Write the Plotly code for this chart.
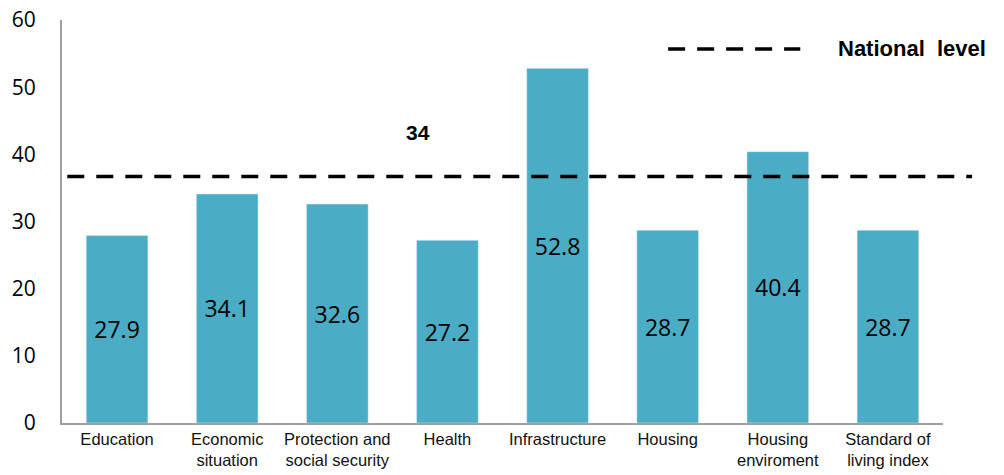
import plotly.graph_objects as go

categories = ["Education", "Economic<br>situation", "Protection and<br>social security", "Health",
              "Infrastructure", "Housing", "Housing<br>enviroment", "Standard of<br>living index"]
values = [27.9, 34.1, 32.6, 27.2, 52.8, 28.7, 40.4, 28.7]
national_level = 36.7
national_label = "34"
national_label_pos = (2.73, 43.3)
legend_label = "National&nbsp;&nbsp;level"
y_ticks = [0, 10, 20, 30, 40, 50, 60]

bar_color = "#4bacc6"
dash_style = "17px,12px"

fig = go.Figure()
fig.add_trace(go.Bar(
    x=list(range(len(categories))), y=values, marker_color=bar_color, width=0.56,
    text=[f"{v:.1f}" for v in values], textposition="inside", insidetextanchor="middle",
    textfont=dict(family="Open Sans, DejaVu Sans", size=23, color="#000000"),
    textangle=0, showlegend=False, hoverinfo="skip",
))

# national level dashed line (extends slightly past the plot area)
fig.add_shape(type="line", xref="paper", yref="y", x0=0.006, x1=1.033,
              y0=national_level, y1=national_level,
              line=dict(color="black", width=3.5, dash=dash_style))

# label "34"
fig.add_annotation(x=national_label_pos[0], y=national_label_pos[1], xref="x", yref="y",
                   text=f"<b>{national_label}</b>", showarrow=False,
                   font=dict(family="Liberation Sans, Arial", size=21, color="black"))

# legend
fig.add_shape(type="line", xref="paper", yref="paper", x0=0.688, x1=0.838, y0=0.928, y1=0.928,
              line=dict(color="black", width=3.5, dash=dash_style))
fig.add_annotation(xref="paper", yref="paper", x=0.878, y=0.930, text=f"<b>{legend_label}</b>",
                   showarrow=False, xanchor="left", yanchor="middle",
                   font=dict(family="Liberation Sans, Arial", size=22, color="black"))

fig.update_layout(
    width=1004, height=475,
    margin=dict(l=62, r=61, t=20, b=52),
    plot_bgcolor="white", paper_bgcolor="white",
)
fig.update_xaxes(range=[-0.5, len(categories) - 0.5], tickvals=list(range(len(categories))),
                 ticktext=categories, automargin=False,
                 showline=True, linecolor="#a0a0a0", linewidth=2, showgrid=False, ticks="",
                 tickfont=dict(family="Liberation Sans, Arial", size=16.5, color="#111111"),
                 tickangle=0, zeroline=False)
fig.update_yaxes(range=[0, 60], tickvals=y_ticks, showline=True, linecolor="#a0a0a0", linewidth=2,
                 showgrid=False, zeroline=False, ticks="", ticklabelstandoff=20, automargin=False,
                 ticklabeloverflow="allow",
                 tickfont=dict(family="Open Sans, DejaVu Sans", size=21, color="#000000"))

# remove the browser's default 8px body margin so the figure fills the window exactly
fig.write_html("out.html",
               config={"displayModeBar": False, "staticPlot": True},
               post_script="document.body.style.margin='0';document.body.style.overflow='hidden';")
